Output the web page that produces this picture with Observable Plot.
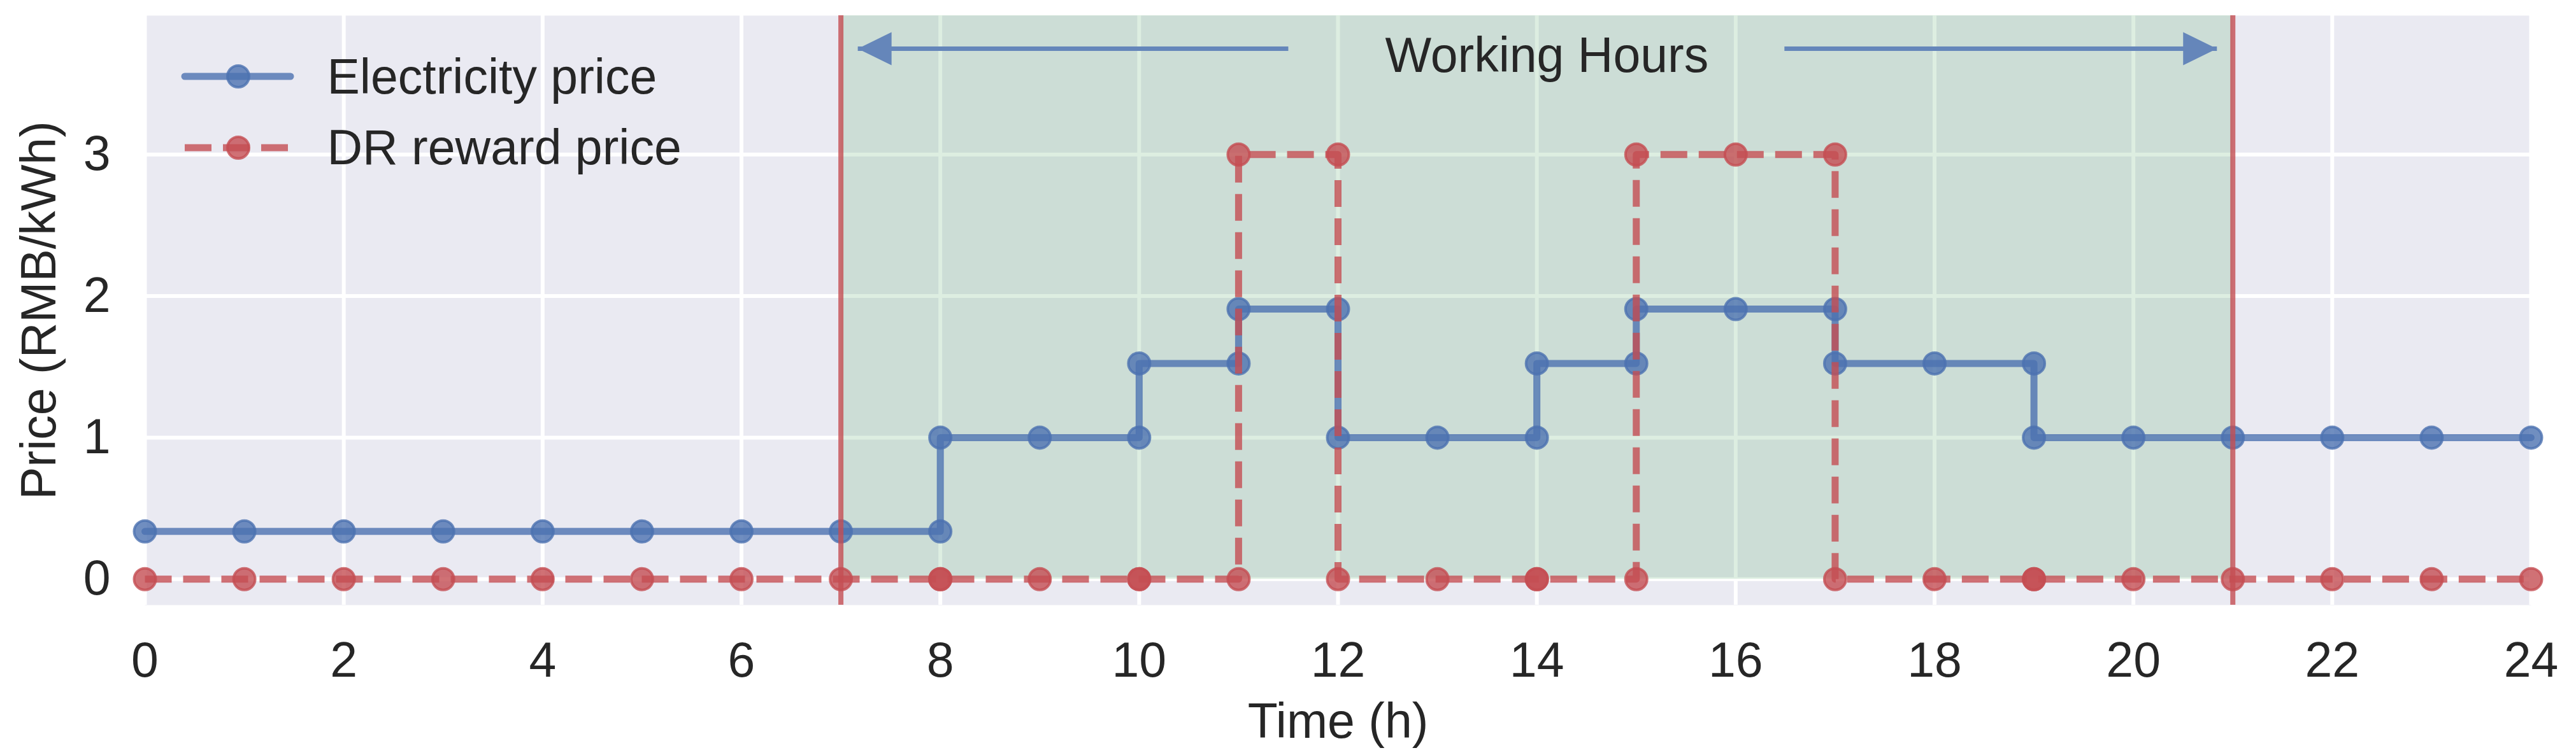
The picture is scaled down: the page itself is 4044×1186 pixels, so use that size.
<!DOCTYPE html>
<html>
<head>
<meta charset="utf-8">
<script src="https://cdn.jsdelivr.net/npm/d3@7"></script>
<script src="https://cdn.jsdelivr.net/npm/@observablehq/plot@0.6"></script>
<style>
  body { margin: 0; background: #fff; }
  svg { display: block; }
</style>
</head>
<body>
<div id="chart"></div>
<script>
// ---- data ----
const hours = [0,1,2,3,4,5,6,7,8,8,9,10,10,11,11,12,12,13,14,14,15,15,16,17,17,18,19,19,20,21,22,23,24];
const electricityPrice = [0.337,0.337,0.337,0.337,0.337,0.337,0.337,0.337,0.337,1,1,1,1.524,1.524,1.908,1.908,1,1,1,1.524,1.524,1.908,1.908,1.908,1.524,1.524,1.524,1,1,1,1,1,1];
const drRewardPrice = [0,0,0,0,0,0,0,0,0,0,0,0,0,0,3,3,0,0,0,0,0,3,3,3,0,0,0,0,0,0,0,0,0];
const xTicks = [0,2,4,6,8,10,12,14,16,18,20,22,24];
const yTicks = [0,1,2,3];
const workingHours = [7, 21];
const shadeSpan = [{start: 7, end: 21, low: 0, high: 4}];
const arrowLeft = [{tail: 11.5, tip: 7.17, y: 3.748}];
const arrowRight = [{tail: 16.49, tip: 20.84, y: 3.748}];
const annotation = [{x: 14.1, y: 3.83, text: "Working Hours"}];
const seriesNames = ["Electricity price", "DR reward price"];
const axisLabels = {x: "Time (h)", y: "Price (RMB/kWh)"};

const BLUE = "#4C72B0", RED = "#C44E52", GREEN = "#55A868", INK = "#262626";
const FS = 77;

const elec = hours.map((h, i) => ({hour: h, price: electricityPrice[i]}));
const dr = hours.map((h, i) => ({hour: h, price: drRewardPrice[i]}));

const headRight = {draw(ctx) { ctx.moveTo(0, 0); ctx.lineTo(-53, -26); ctx.lineTo(-53, 26); ctx.closePath(); }};
const headLeft = {draw(ctx) { ctx.moveTo(0, 0); ctx.lineTo(53, -26); ctx.lineTo(53, 26); ctx.closePath(); }};
const ARROW = "#6586BA";

const dotStyle = (c) => ({r: 17, fill: c, fillOpacity: 0.8, stroke: c, strokeOpacity: 0.8, strokeWidth: 4});
const fmt = (d) => String(d);

const svg = Plot.plot({
  width: 4044,
  height: 1186,
  marginLeft: 227,
  marginRight: 71,
  marginTop: 24,
  marginBottom: 236,
  style: {fontFamily: "'Liberation Sans', Arial, sans-serif", fontSize: FS + "px", color: INK, background: "#fff"},
  x: {domain: [0, 24], label: null},
  y: {domain: [-0.1835, 3.982], label: null},
  marks: [
    Plot.frame({fill: "#EAEAF2", stroke: "none"}),
    Plot.gridX(xTicks, {stroke: "#fff", strokeOpacity: 1, strokeWidth: 6}),
    Plot.gridY(yTicks, {stroke: "#fff", strokeOpacity: 1, strokeWidth: 6}),
    Plot.rect(shadeSpan, {x1: "start", x2: "end", y1: "low", y2: "high", fill: GREEN, fillOpacity: 0.2, clip: true}),
    Plot.line(elec, {x: "hour", y: "price", stroke: BLUE, strokeOpacity: 0.8, strokeWidth: 11, strokeLinecap: "round", strokeLinejoin: "round"}),
    Plot.dot(elec, {x: "hour", y: "price", ...dotStyle(BLUE)}),
    Plot.line(dr, {x: "hour", y: "price", stroke: RED, strokeOpacity: 0.8, strokeWidth: 11, strokeDasharray: "42,18", strokeLinecap: "butt"}),
    Plot.dot(dr, {x: "hour", y: "price", ...dotStyle(RED)}),
    Plot.ruleX(workingHours, {stroke: RED, strokeOpacity: 0.8, strokeWidth: 8}),
    Plot.link(arrowLeft, {x1: "tail", x2: "tip", y1: "y", y2: "y", stroke: ARROW, strokeWidth: 7}),
    Plot.link(arrowRight, {x1: "tail", x2: "tip", y1: "y", y2: "y", stroke: ARROW, strokeWidth: 7}),
    Plot.dot(arrowLeft, {x: "tip", y: "y", symbol: headLeft, r: 10, fill: ARROW, stroke: "none"}),
    Plot.dot(arrowRight, {x: "tip", y: "y", symbol: headRight, r: 10, fill: ARROW, stroke: "none"}),
    Plot.text(annotation, {x: "x", y: "y", text: "text", lineAnchor: "top", fontSize: FS, fill: INK}),
    Plot.axisX(xTicks, {tickSize: 0, tickPadding: 58, fontSize: FS, label: null, fill: INK, tickFormat: fmt}),
    Plot.axisY(yTicks, {tickSize: 0, tickPadding: 54, fontSize: FS, label: null, fill: INK, tickFormat: fmt}),
    Plot.text([axisLabels.x], {frameAnchor: "bottom", textAnchor: "middle", lineAnchor: "top", dy: 154, fontSize: FS, fill: INK}),
    Plot.text([axisLabels.y], {frameAnchor: "left", textAnchor: "middle", rotate: -90, dx: -165, fontSize: FS, fill: INK}),
    Plot.text([seriesNames[0]], {frameAnchor: "top-left", textAnchor: "start", lineAnchor: "top", dx: 286, dy: 68, fontSize: FS, fill: INK}),
    Plot.text([seriesNames[1]], {frameAnchor: "top-left", textAnchor: "start", lineAnchor: "top", dx: 286, dy: 179, fontSize: FS, fill: INK})
  ]
});

// legend swatches (layout only)
const lg = d3.select(svg).append("g");
const rows = [
  {y: 120, color: BLUE, dash: null, cap: "round"},
  {y: 232, color: RED, dash: "42,18", cap: "butt"}
];
for (const r of rows) {
  lg.append("line").attr("x1", 290).attr("x2", 456).attr("y1", r.y).attr("y2", r.y)
    .attr("stroke", r.color).attr("stroke-opacity", 0.8).attr("stroke-width", 11)
    .attr("stroke-linecap", r.cap).attr("stroke-dasharray", r.dash);
  lg.append("circle").attr("cx", 374).attr("cy", r.y).attr("r", 17)
    .attr("fill", r.color).attr("fill-opacity", 0.8)
    .attr("stroke", r.color).attr("stroke-opacity", 0.8).attr("stroke-width", 4);
}

document.getElementById("chart").appendChild(svg);
</script>
</body>
</html>
